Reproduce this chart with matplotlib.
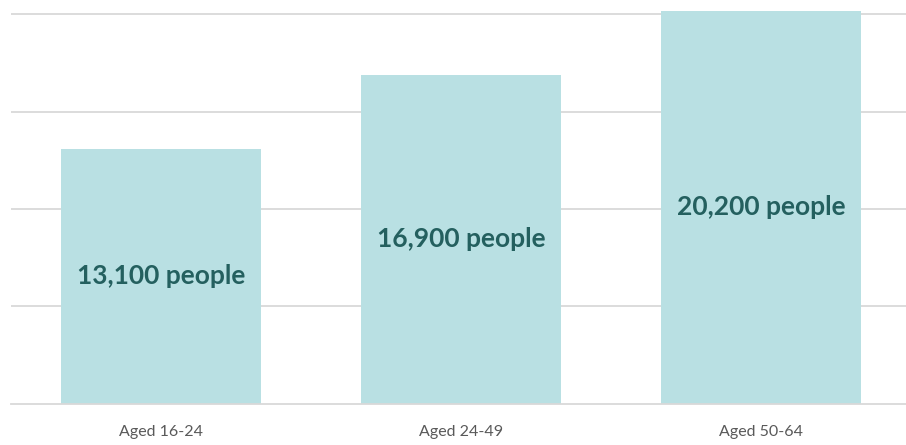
import matplotlib.pyplot as plt

categories = ["Aged 16-24", "Aged 24-49", "Aged 50-64"]
people = [13100, 16900, 20200]

plt.rcParams['font.family'] = ['Lato', 'DejaVu Sans']

fig = plt.figure(figsize=(9.06, 4.45), dpi=100)
# plot area runs a little past the right edge, like the source layout
ax = fig.add_axes([11 / 906, 41.5 / 445, 900 / 906, 404.6 / 445])

x = list(range(len(categories)))
ax.bar(x, people, width=0.667, color="#B9E0E3", zorder=2)

for xi, v in zip(x, people):
    ax.text(xi, v / 2, "{:,} people".format(v), ha="center", va="center",
            fontsize=19, fontweight="bold", color="#24605F", zorder=3)

ax.set_xlim(-0.5, 2.5)
ax.set_ylim(0, 20800)
ax.set_yticks([5000, 10000, 15000, 20000])
ax.yaxis.grid(True, color="#D9D9D9", linewidth=1.3, zorder=0)
ax.tick_params(left=False, labelleft=False, bottom=False)
ax.set_xticks(x)
ax.set_xticklabels(categories, fontsize=11.5, color="#595959")
ax.tick_params(axis="x", length=0, pad=15.5)
for side in ["top", "right", "left"]:
    ax.spines[side].set_visible(False)
ax.spines["bottom"].set_color("#D9D9D9")
ax.spines["bottom"].set_linewidth(1.3)

plt.savefig("out.png", dpi=100)
